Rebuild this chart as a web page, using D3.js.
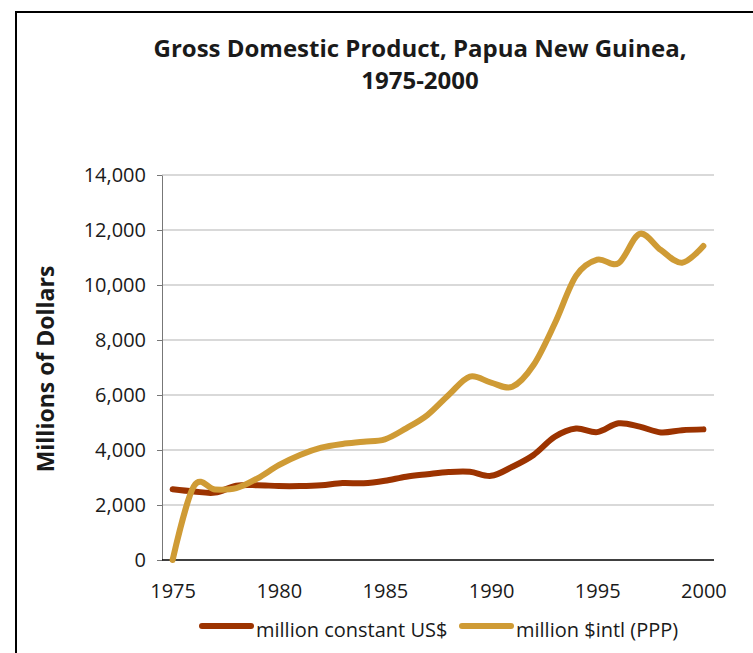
<!DOCTYPE html>
<html lang="en">
  <head>
    <meta charset="utf-8">
    <script src="https://cdn.jsdelivr.net/npm/d3@7"></script>
    <style>
      body { margin: 0; background: white; }
      svg text { font-family: "Open Sans", "Noto Sans", sans-serif; fill: #1a1a1a; }
      .grid line { stroke: #b3b3b3; stroke-width: 1; }
      .yaxis path, .yaxis line { stroke: #777; }
      .xaxis path { stroke: #000; stroke-width: 1.5; }
      .xaxis line { display: none; }
      .series { fill: none; stroke-width: 6; stroke-linecap: round; stroke-linejoin: round; }
    </style>
  </head>
  <body>
    <script>
      var years = [1975, 1976, 1977, 1978, 1979, 1980, 1981, 1982, 1983, 1984, 1985, 1986, 1987,
                   1988, 1989, 1990, 1991, 1992, 1993, 1994, 1995, 1996, 1997, 1998, 1999, 2000];
      var constantUSD = [2570, 2490, 2450, 2700, 2720, 2690, 2690, 2720, 2800, 2790, 2880, 3030, 3120,
                         3200, 3210, 3060, 3390, 3820, 4480, 4780, 4650, 4970, 4850, 4640, 4720, 4750];
      var intlPPP = [0, 2680, 2560, 2610, 2970, 3450, 3820, 4085, 4220, 4300, 4390, 4790, 5270,
                     6000, 6670, 6450, 6300, 7090, 8600, 10330, 10920, 10790, 11860, 11270, 10810, 11420];
      var yTicks = [0, 2000, 4000, 6000, 8000, 10000, 12000, 14000];
      var xLabels = [1975, 1980, 1985, 1990, 1995, 2000];
      var seriesNames = ["million constant US$", "million $intl (PPP)"];
      var colors = ["#9c3300", "#cf9b35"];

      var width = 753, height = 653;
      var plotLeft = 162, plotRight = 714, plotTop = 175, plotBottom = 560;

      var svg = d3.select("body").append("svg").attr("width", width).attr("height", height);

      // outer frame, runs off the right and bottom edges
      svg.append("rect").attr("x", 16).attr("y", 12).attr("width", 800).attr("height", 700)
        .attr("fill", "none").attr("stroke", "#000").attr("stroke-width", 2);

      var x = d3.scalePoint().domain(years).range([plotLeft, plotRight]).padding(0.5);
      var y = d3.scaleLinear().domain([0, 14000]).range([plotBottom, plotTop]);

      // gridlines
      svg.append("g").attr("class", "grid")
        .selectAll("line")
        .data(yTicks.slice(1))
        .enter().append("line")
          .attr("x1", plotLeft).attr("x2", plotRight)
          .attr("y1", function(d){ return y(d); })
          .attr("y2", function(d){ return y(d); });

      var yAxis = svg.append("g").attr("class", "yaxis")
        .attr("transform", "translate(" + plotLeft + ",0)")
        .call(d3.axisLeft(y).tickValues(yTicks).tickSize(5).tickSizeOuter(0).tickPadding(11)
          .tickFormat(d3.format(",")));
      yAxis.selectAll("text").style("font-size", "20px");

      var xAxis = svg.append("g").attr("class", "xaxis")
        .attr("transform", "translate(0," + plotBottom + ")")
        .call(d3.axisBottom(x).tickValues(xLabels).tickSize(0).tickSizeOuter(0).tickPadding(24));
      xAxis.selectAll("text").style("font-size", "20px");
      xAxis.select("path").attr("d", "M" + plotLeft + ",0H" + plotRight);

      // lines
      var line = d3.line()
        .x(function(d, i){ return x(years[i]); })
        .y(function(d){ return y(d); })
        .curve(d3.curveCardinal.tension(0));

      svg.selectAll("path.series")
        .data([constantUSD, intlPPP])
        .enter().append("path")
          .attr("class", "series")
          .attr("stroke", function(d, i){ return colors[i]; })
          .attr("d", line);

      // title
      var title = svg.append("text").attr("x", 420).attr("y", 57)
        .attr("text-anchor", "middle").style("font-size", "24px").style("font-weight", "bold");
      title.append("tspan").attr("x", 420).text("Gross Domestic Product, Papua New Guinea,");
      title.append("tspan").attr("x", 420).attr("dy", 32).text("1975-2000");

      // y axis title
      svg.append("text")
        .attr("transform", "translate(54,369) rotate(-90)")
        .attr("text-anchor", "middle")
        .style("font-size", "23px").style("font-weight", "bold")
        .text("Millions of Dollars");

      // legend
      var legendX = [200, 460];
      var legend = svg.selectAll("g.legend")
        .data(seriesNames)
        .enter().append("g").attr("class", "legend")
          .attr("transform", function(d, i){ return "translate(" + legendX[i] + ",626)"; });
      legend.append("line")
        .attr("x1", 2).attr("x2", 51).attr("y1", 0).attr("y2", 0)
        .attr("stroke", function(d, i){ return colors[i]; })
        .attr("stroke-width", 6).attr("stroke-linecap", "round");
      legend.append("text")
        .attr("x", 56).attr("y", 11)
        .style("font-size", "20px")
        .text(function(d){ return d; });
    </script>
  </body>
</html>
